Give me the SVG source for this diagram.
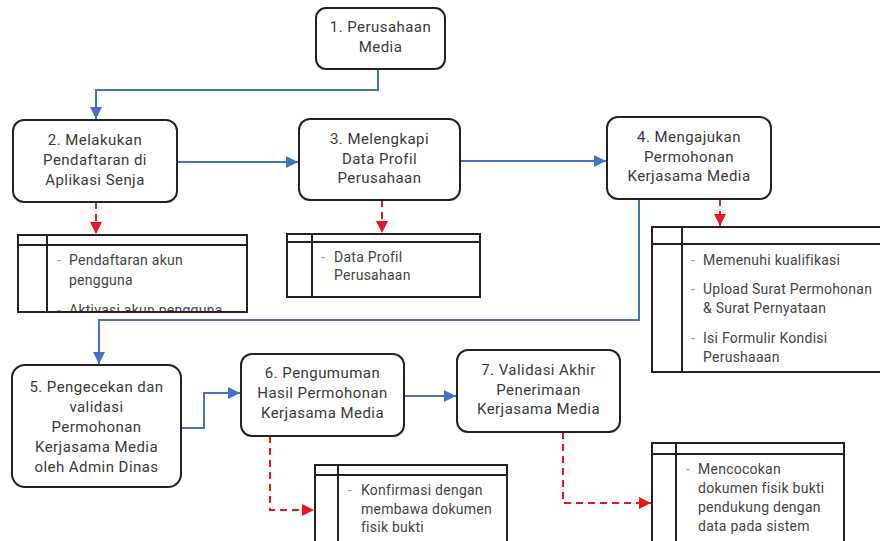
<svg xmlns="http://www.w3.org/2000/svg" width="880" height="541" viewBox="0 0 880 541">
<style>
.node rect{fill:#fff;stroke:#222;stroke-width:2}
.nt{font-family:Roboto,"Liberation Sans",sans-serif;font-size:15px;letter-spacing:0.45px;fill:#3a3a3a;text-anchor:middle}
.tb{fill:#fff;stroke:#222;stroke-width:2}
.tl{stroke:#222;stroke-width:2;fill:none}
.tt{font-family:Roboto,"Liberation Sans",sans-serif;font-size:14px;letter-spacing:0.25px;fill:#444}
.bu{font-family:Roboto,"Liberation Sans",sans-serif;font-size:14px;fill:#999}
.flow{fill:none;stroke:#4472C4;stroke-width:2}
.dep{fill:none;stroke:#e8161b;stroke-width:2;stroke-dasharray:7,5}
</style>
<defs>
<marker id="ab" markerUnits="userSpaceOnUse" markerWidth="14" markerHeight="12" refX="12" refY="6" orient="auto">
<path d="M0,0 L12,6 L0,12 Z" fill="#4472C4"/>
</marker>
<marker id="ar" markerUnits="userSpaceOnUse" markerWidth="14" markerHeight="12" refX="12" refY="6" orient="auto">
<path d="M0,0 L12,6 L0,12 Z" fill="#e8161b"/>
</marker>
<clipPath id="c2"><rect x="18" y="235" width="230" height="76"/></clipPath>
</defs>

<g id="connectors">
<path class="flow" d="M378,69 V90 H96 V119" marker-end="url(#ab)"/>
<path class="flow" d="M177,162 H298" marker-end="url(#ab)"/>
<path class="flow" d="M460,161 H606" marker-end="url(#ab)"/>
<path class="flow" d="M639,199 V320 H99 V364" marker-end="url(#ab)"/>
<path class="flow" d="M181,428 H204 V393 H240" marker-end="url(#ab)"/>
<path class="flow" d="M404,396 H456" marker-end="url(#ab)"/>
<path class="dep" d="M96,202 V234" marker-end="url(#ar)"/>
<path class="dep" d="M382,200 V233" marker-end="url(#ar)"/>
<path class="dep" d="M720,199 V226" marker-end="url(#ar)"/>
<path class="dep" d="M270,436 V510 H314" marker-end="url(#ar)"/>
<path class="dep" d="M563,432 V503 H651" marker-end="url(#ar)"/>
</g>

<g id="node1" class="node">
<rect x="316" y="8" width="129" height="61" rx="10"/>
<text class="nt" x="380.5" y="31.5">1. Perusahaan</text>
<text class="nt" x="380.5" y="51.5">Media</text>
</g>
<g id="node2" class="node">
<rect x="13" y="120" width="164" height="82" rx="11"/>
<text class="nt" x="95" y="145">2. Melakukan</text>
<text class="nt" x="95" y="165">Pendaftaran di</text>
<text class="nt" x="95" y="185">Aplikasi Senja</text>
</g>
<g id="node3" class="node">
<rect x="299" y="119" width="161" height="81" rx="11"/>
<text class="nt" x="379.5" y="144">3. Melengkapi</text>
<text class="nt" x="379.5" y="163.5">Data Profil</text>
<text class="nt" x="379.5" y="183">Perusahaan</text>
</g>
<g id="node4" class="node">
<rect x="607" y="117" width="164" height="82" rx="11"/>
<text class="nt" x="689" y="142">4. Mengajukan</text>
<text class="nt" x="689" y="162">Permohonan</text>
<text class="nt" x="689" y="181">Kerjasama Media</text>
</g>
<g id="node5" class="node">
<rect x="12" y="365" width="169" height="122" rx="13"/>
<text class="nt" x="96.5" y="392">5. Pengecekan dan</text>
<text class="nt" x="96.5" y="412">validasi</text>
<text class="nt" x="96.5" y="432">Permohonan</text>
<text class="nt" x="96.5" y="452">Kerjasama Media</text>
<text class="nt" x="96.5" y="471.5">oleh Admin Dinas</text>
</g>
<g id="node6" class="node">
<rect x="241" y="354" width="163" height="82" rx="11"/>
<text class="nt" x="322.5" y="378">6. Pengumuman</text>
<text class="nt" x="322.5" y="398">Hasil Permohonan</text>
<text class="nt" x="322.5" y="417.5">Kerjasama Media</text>
</g>
<g id="node7" class="node">
<rect x="457" y="350" width="163" height="82" rx="11"/>
<text class="nt" x="538.5" y="375">7. Validasi Akhir</text>
<text class="nt" x="538.5" y="394.5">Penerimaan</text>
<text class="nt" x="538.5" y="414">Kerjasama Media</text>
</g>

<g id="table2">
<rect class="tb" x="18" y="235" width="229" height="77"/>
<path class="tl" d="M18,245 H247 M47,235 V312"/>
<text class="bu" x="57" y="265">-</text>
<text class="tt" x="69" y="265">Pendaftaran akun</text>
<text class="tt" x="69" y="285">pengguna</text>
<g clip-path="url(#c2)">
<text class="bu" x="57" y="315">-</text>
<text class="tt" x="69" y="315">Aktivasi akun pengguna</text>
</g>
</g>
<g id="table3">
<rect class="tb" x="287" y="234" width="193" height="63"/>
<path class="tl" d="M287,242 H480 M312,234 V297"/>
<text class="bu" x="321" y="262">-</text>
<text class="tt" x="334" y="262">Data Profil</text>
<text class="tt" x="334" y="280">Perusahaan</text>
</g>
<g id="table4">
<rect class="tb" x="652" y="227" width="240" height="145"/>
<path class="tl" d="M652,244 H892 M682,227 V372"/>
<text class="bu" x="691" y="265">-</text>
<text class="tt" x="703" y="265">Memenuhi kualifikasi</text>
<text class="bu" x="691" y="294">-</text>
<text class="tt" x="703" y="294">Upload Surat Permohonan</text>
<text class="tt" x="703" y="313">&amp; Surat Pernyataan</text>
<text class="bu" x="691" y="343">-</text>
<text class="tt" x="703" y="343">Isi Formulir Kondisi</text>
<text class="tt" x="703" y="362">Perushaaan</text>
</g>
<g id="table6">
<rect class="tb" x="315" y="465" width="192" height="100"/>
<path class="tl" d="M315,475 H507 M338,465 V565"/>
<text class="bu" x="348" y="495">-</text>
<text class="tt" x="361" y="495">Konfirmasi dengan</text>
<text class="tt" x="361" y="513.5">membawa dokumen</text>
<text class="tt" x="361" y="532">fisik bukti</text>
</g>
<g id="table7">
<rect class="tb" x="652" y="443" width="192" height="120"/>
<path class="tl" d="M652,454 H844 M676,443 V563"/>
<text class="bu" x="686" y="474">-</text>
<text class="tt" x="698" y="474">Mencocokan</text>
<text class="tt" x="698" y="493">dokumen fisik bukti</text>
<text class="tt" x="698" y="512">pendukung dengan</text>
<text class="tt" x="698" y="530.5">data pada sistem</text>
</g>
</svg>
